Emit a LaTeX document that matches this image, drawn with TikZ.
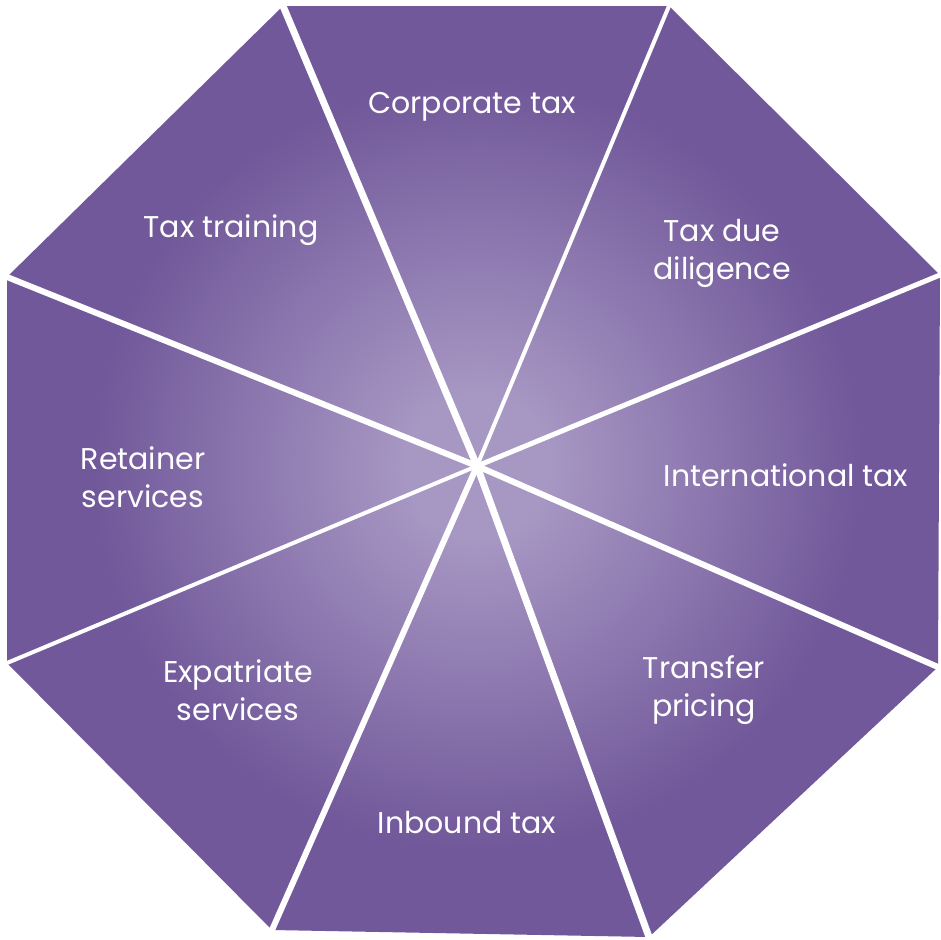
\documentclass[tikz,border=0pt]{standalone}
\usepackage{fontspec}
\setmainfont{Poppins}
\usetikzlibrary{positioning,calc}
\definecolor{octlight}{HTML}{A797C3}
\definecolor{octdark}{HTML}{71589A}
\pgfdeclareradialshading{octshade}{\pgfpoint{0bp}{0bp}}{color(0bp)=(octlight); color(3bp)=(octlight); color(16bp)=(octdark); color(50bp)=(octdark)}
\tikzset{lbl/.style={text=white,font=\fontsize{30}{38}\selectfont,align=center,inner sep=0pt}}

\begin{document}
\begin{tikzpicture}[x=1pt,y=-1pt]
\useasboundingbox (0,0) rectangle (940,940);

% Ecken des Achtecks
\coordinate (c) at (477,466);
\foreach \i/\x/\y in {1/283/6, 2/669/6, 3/940/275, 4/938/667,
                      5/649/937, 6/272/930, 7/7/663, 8/7/277}{
  \coordinate (v\i) at (\x,\y);
}

% Achteck mit Verlauf
\begin{scope}
\clip (v1) -- (v2) -- (v3) -- (v4) -- (v5) -- (v6) -- (v7) -- (v8) -- cycle;
\shade[shading=octshade] (c) circle (600pt);
\end{scope}

% weisse Fugen
\foreach \i/\w in {1/7, 2/4, 3/5, 4/6, 5/7, 6/6, 7/4, 8/6}{
  \draw[white,line width=\w pt] (c) -- ($(c)!1.05!(v\i)$);
}

% Beschriftungen
\node[lbl] (corp)   at (472,107) {Corporate tax};
\node[lbl] (due)    at (722,253) {Tax due\\diligence};
\node[lbl] (intl)   at (786,475) {International tax};
\node[lbl] (trans)  at (704,690) {Transfer\\pricing};
\node[lbl] (inb)    at (467,823) {Inbound tax};
\node[lbl] (expat)  at (238,690) {Expatriate\\services};
\node[lbl] (ret)    at (143,477) {Retainer\\services};
\node[lbl] (train)  at (231,230) {Tax training};

\end{tikzpicture}
\end{document}
